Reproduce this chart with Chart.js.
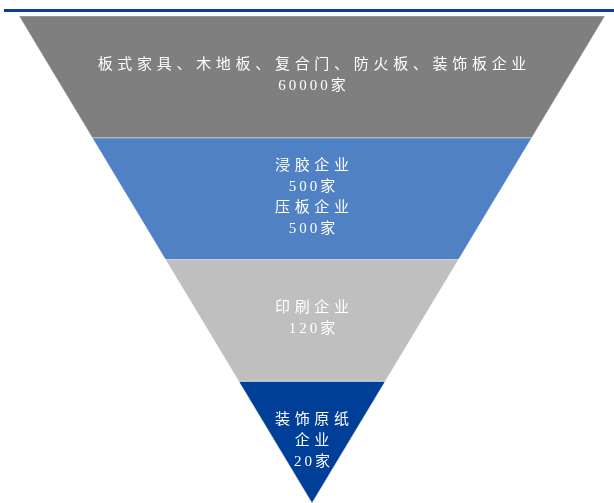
<!DOCTYPE html>
<html lang="zh">
<head>
<meta charset="UTF-8">
<title>装饰纸产业链</title>
<style type="text/css">
    body { margin: 0; background: #fff; }
    .chartBox { width: 614px; height: 503px; }
</style>
</head>
<body>
<div class="chartBox">
    <canvas id="funnel" width="614" height="503"></canvas>
</div>
<script src="https://cdn.jsdelivr.net/npm/chart.js"></script>
<script>
// industry tiers, top to bottom
const segments = ['板式家具、木地板、复合门、防火板、装饰板企业', '浸胶企业', '压板企业', '印刷企业', '装饰原纸\n企业'];
const counts = [60000, 500, 500, 120, 20];
const segmentTier = [0, 1, 1, 2, 3];
const tierCount = 4;

const tierColors = ['#7f7f7f', '#4f81c4', '#bfbfbf', '#003f98'];

// each tier is a trapezoid slice of the inverted triangle (x: -1..1, y: 0..tierCount)
function tierShape(i) {
    const wTop = (tierCount - i) / tierCount;
    const wBot = (tierCount - i - 1) / tierCount;
    return [
        {x: -wTop, y: i}, {x: wTop, y: i},
        {x: wBot, y: i + 1}, {x: -wBot, y: i + 1},
        {x: -wTop, y: i}
    ];
}

const datasets = [];
for (let i = 0; i < tierCount; i++) {
    datasets.push({
        label: 'tier' + i,
        data: tierShape(i),
        showLine: true,
        fill: 'shape',
        backgroundColor: tierColors[i],
        borderColor: 'rgba(255,255,255,0.4)',
        borderWidth: 1,
        pointRadius: 0,
        tension: 0
    });
}

// text lines for each tier: name line(s) then "N家"
function tierLines(i) {
    const lines = [];
    segments.forEach((s, k) => {
        if (segmentTier[k] !== i) return;
        s.split('\n').forEach(t => lines.push({text: t, spacing: 4.7}));
        lines.push({text: counts[k] + '家', spacing: 3});
    });
    return lines;
}

const headerRule = {
    id: 'headerRule',
    beforeDraw(chart) {
        const ctx = chart.ctx;
        ctx.save();
        ctx.fillStyle = '#0a3f94';
        ctx.fillRect(4, 9, 610, 3);
        ctx.restore();
    }
};

const tierText = {
    id: 'tierText',
    afterDatasetsDraw(chart) {
        const ctx = chart.ctx;
        const xs = chart.scales.x, ys = chart.scales.y;
        const lineH = 21;
        ctx.save();
        ctx.fillStyle = '#ffffff';
        ctx.font = '15px "Liberation Serif", "Noto Sans CJK SC"';
        ctx.textAlign = 'center';
        ctx.textBaseline = 'middle';
        for (let i = 0; i < tierCount; i++) {
            const lines = tierLines(i);
            const cy = ys.getPixelForValue(i + 0.5) - 1.5;
            lines.forEach((l, n) => {
                ctx.letterSpacing = l.spacing + 'px';
                const cx = xs.getPixelForValue(0) + l.spacing / 2;
                ctx.fillText(l.text, cx, cy + (n - (lines.length - 1) / 2) * lineH);
            });
        }
        ctx.restore();
    }
};

new Chart(document.getElementById('funnel'), {
    type: 'scatter',
    data: { datasets },
    options: {
        responsive: false,
        animation: false,
        layout: { padding: { left: 19, right: 9, top: 16, bottom: 0 } },
        scales: {
            x: { type: 'linear', min: -1, max: 1, display: false },
            y: { type: 'linear', min: 0, max: tierCount, reverse: true, display: false }
        },
        plugins: {
            legend: { display: false },
            tooltip: { enabled: false }
        }
    },
    plugins: [headerRule, tierText]
});
</script>
</body>
</html>
